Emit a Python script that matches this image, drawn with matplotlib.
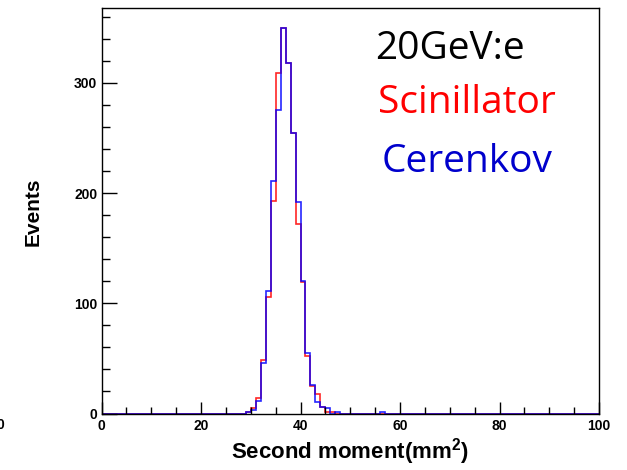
import matplotlib.pyplot as plt
import numpy as np
from matplotlib.ticker import MultipleLocator

# histogram: 100 bins of width 1 over [0, 100]; only bins 29..57 are non-zero
first_bin = 29
scint = [1, 5, 14, 49, 106, 193, 309, 350, 318, 255, 172, 119, 52, 25, 18, 6, 1, 1, 0,
         0, 0, 0, 0, 0, 0, 0, 0, 0, 0]
ceren = [1, 3, 11, 46, 111, 211, 275, 350, 318, 255, 192, 120, 55, 26, 10, 6, 5, 0, 1,
         0, 0, 0, 0, 0, 0, 0, 0, 1, 0]

edges = np.arange(0, 101, 1)
h_scint = np.zeros(100)
h_ceren = np.zeros(100)
h_scint[first_bin:first_bin + len(scint)] = scint
h_ceren[first_bin:first_bin + len(ceren)] = ceren

plt.rcParams['font.family'] = ['Liberation Sans', 'DejaVu Sans']
plt.rcParams['mathtext.fontset'] = 'custom'
plt.rcParams['mathtext.rm'] = 'Liberation Sans:bold'
plt.rcParams['mathtext.bf'] = 'Liberation Sans:bold'

fig = plt.figure(figsize=(6.27, 4.70), dpi=100)
ax = fig.add_axes([101.5 / 627, 1 - 413.5 / 470, 497.5 / 627, 405.5 / 470])

ax.stairs(h_scint, edges, color='red', lw=1.2, alpha=0.85)
ax.stairs(h_ceren, edges, color='blue', lw=1.2, alpha=0.85)

ax.set_xlim(0, 100)
ax.set_ylim(0, 368)

ax.xaxis.set_major_locator(MultipleLocator(20))
ax.xaxis.set_minor_locator(MultipleLocator(5))
ax.yaxis.set_major_locator(MultipleLocator(100))
ax.yaxis.set_minor_locator(MultipleLocator(20))
ax.tick_params(axis='x', which='major', direction='in', length=8.6, width=1, pad=4)
ax.tick_params(axis='x', which='minor', direction='in', length=4.8, width=1)
ax.tick_params(axis='y', which='major', direction='in', length=10.8, width=1, pad=3)
ax.tick_params(axis='y', which='minor', direction='in', length=5.4, width=1)
for lab in ax.get_xticklabels() + ax.get_yticklabels():
    lab.set_fontweight('bold')
    lab.set_fontsize(10)

for sp in ax.spines.values():
    sp.set_linewidth(1)

ax.set_xlabel('Second moment(mm$^{2}$)', fontsize=16, fontweight='bold', va='center')
ax.xaxis.set_label_coords(0.5, -0.095)
ax.set_ylabel('Events', fontsize=15, fontweight='bold', va='center')
ax.yaxis.set_label_coords(-0.138, 0.497)

# cropped label at the very left edge
fig.text(0.001, 1 - 425 / 470, '0', fontsize=10, fontweight='bold', ha='center', va='center')

fig.text(375 / 627, 1 - 59 / 470, '20GeV:e', fontsize=28, color='black',
         family=['Open Sans', 'DejaVu Sans'], va='baseline')
fig.text(378 / 627, 1 - 113 / 470, 'Scinillator', fontsize=28, color='red',
         family=['Open Sans', 'DejaVu Sans'], va='baseline')
fig.text(382 / 627, 1 - 172 / 470, 'Cerenkov', fontsize=28, color='#0000cc',
         family=['Open Sans', 'DejaVu Sans'], va='baseline')

fig.savefig('out.png', dpi=100)
